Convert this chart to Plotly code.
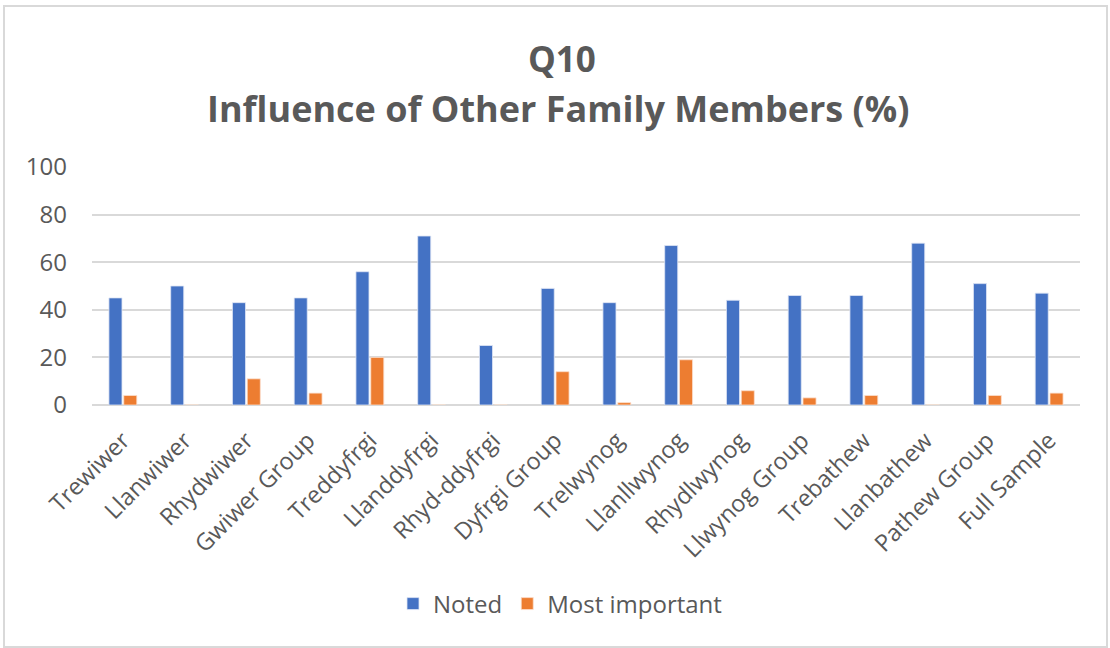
import plotly.graph_objects as go

categories = ["Trewiwer", "Llanwiwer", "Rhydwiwer", "Gwiwer Group", "Treddyfrgi",
              "Llanddyfrgi", "Rhyd-ddyfrgi", "Dyfrgi Group", "Trelwynog", "Llanllwynog",
              "Rhydlwynog", "Llwynog Group", "Trebathew", "Llanbathew", "Pathew Group",
              "Full Sample"]
noted = [45, 50, 43, 45, 56, 71, 25, 49, 43, 67, 44, 46, 46, 68, 51, 47]
most_important = [4, 0, 11, 5, 20, 0, 0, 14, 1, 19, 6, 3, 4, 0, 4, 5]
y_ticks = [0, 20, 40, 60, 80, 100]

FONT = "Open Sans"
GREY = "#595959"

fig = go.Figure()
fig.add_trace(go.Bar(name="Noted", x=categories, y=noted,
                     marker=dict(color="#4472C4", line=dict(color="#dfe6f5", width=0.8))))
fig.add_trace(go.Bar(name="Most important", x=categories, y=most_important,
                     marker=dict(color="#ED7D31", line=dict(color="#fbe0cf", width=0.8))))

W, H = 1110, 648
L, R, T, B = 92, W - 1080, 167, H - 405
pw, ph = W - L - R, H - T - B

def px_x(x):
    return (x - L) / pw

def px_y(y):
    return (H - B - y) / ph

fig.update_layout(
    width=W, height=H,
    margin=dict(l=L, r=R, t=T, b=B),
    paper_bgcolor="white", plot_bgcolor="white",
    barmode="group", bargap=0.52, bargroupgap=0.12,
    font=dict(family=FONT, color=GREY, size=22),
    showlegend=True,
    legend=dict(orientation="h", x=px_x(560), xanchor="center", y=px_y(604), yanchor="middle",
                font=dict(size=24, color=GREY), itemwidth=30, traceorder="normal"),
    xaxis=dict(tickangle=-45, showgrid=False, showline=False, ticks="",
               tickfont=dict(size=23.5, color=GREY), automargin=False,
               ticklabelstandoff=16, ticklabelshift=0),
    yaxis=dict(range=[0, 100], tickvals=y_ticks, showgrid=True, gridcolor="#D9D9D9",
               gridwidth=1.5, zeroline=True, zerolinecolor="#D9D9D9", zerolinewidth=1.5,
               showline=False, ticks="", tickfont=dict(size=24, color=GREY),
               ticklabelstandoff=24, automargin=False),
    shapes=[dict(type="rect", xref="paper", yref="paper",
                 x0=px_x(4), x1=px_x(1107), y0=px_y(647), y1=px_y(6),
                 line=dict(color="#D9D9D9", width=2), fillcolor="rgba(0,0,0,0)", layer="below")],
    annotations=[
        dict(text="<b>Q10</b>", xref="paper", yref="paper", x=px_x(562), y=px_y(58),
             xanchor="center", yanchor="middle", showarrow=False,
             font=dict(size=35, color=GREY, family=FONT)),
        dict(text="<b>Influence of Other Family Members (%)</b>", xref="paper", yref="paper",
             x=px_x(558), y=px_y(108), xanchor="center", yanchor="middle", showarrow=False,
             font=dict(size=36, color=GREY, family=FONT)),
    ],
)

fig.write_html("out.html", config={"displayModeBar": False},
               post_script="document.body.style.margin='0px';")
